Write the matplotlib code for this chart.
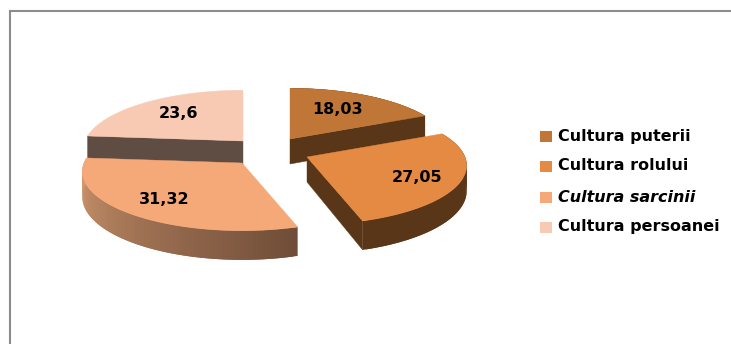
import numpy as np
import matplotlib
matplotlib.use("Agg")
import matplotlib.pyplot as plt
from matplotlib.patches import Polygon, Rectangle
from matplotlib.colors import to_rgb

labels = ["Cultura puterii", "Cultura rolului", "Cultura sarcinii", "Cultura persoanei"]
values = [18.03, 27.05, 31.32, 23.6]
value_labels = ["18,03", "27,05", "31,32", "23,6"]
top_colors = ["#c07636", "#e58a42", "#f5a878", "#f8cab3"]
wall_colors = ["#5a3618", "#5a3618", "#6f4d38", "#5f4d44"]

# pie centre of each exploded slice, in pixels
centers = [(290, 139), (307, 157), (242, 163), (243, 141)]
label_pos = [(337, 110), (417, 178), (164, 199), (178, 113)]

A, B, K, DEPTH = 158, 58, 0.143, 25

plt.rcParams["font.family"] = ["DejaVu Sans"]

fig = plt.figure(figsize=(7.31, 3.44), dpi=100)
ax = fig.add_axes([0, 0, 1, 1])
ax.set_xlim(0, 731)
ax.set_ylim(344, 0)
ax.axis("off")


def project(theta, center, drop=0.0, r=1.0):
    # theta runs clockwise from the top of the pie, r is 1 on the rim
    theta = np.atleast_1d(theta)
    u = r * np.sin(theta)
    v = -r * np.cos(theta)
    s = 1 / (1 - K * v)
    x = center[0] + A * u * s
    y = center[1] + B * v * s + drop * DEPTH * s
    return np.column_stack([x, y])


def side_wall(theta, center, color, z):
    up = np.vstack([project(0.0, center, r=0), project(theta, center)])
    lo = np.vstack([project(0.0, center, 1, r=0), project(theta, center, 1)])
    ax.add_patch(Polygon(np.vstack([up, lo[::-1]]), closed=True, fc=color, ec=color, lw=0.3, zorder=z))


def rim(t0, t1, center, c0, c1, z):
    # outer wall in overlapping strips so the shade can change along the arc
    edges = np.linspace(t0, t1, 81)
    c0, c1 = np.array(to_rgb(c0)), np.array(to_rgb(c1))
    for i in range(79):
        seg = edges[i:i + 3]
        up = project(seg, center)
        lo = project(seg, center, 1)
        col = c0 + (c1 - c0) * i / 78
        ax.add_patch(Polygon(np.vstack([up, lo[::-1]]), closed=True, fc=col, ec="none", zorder=z))


rim_shades = [("#5a3618", "#5a3618"), ("#5a3618", "#5a3618"), ("#6f4d38", "#d69c72")]

fracs = np.array(values) / sum(values)
ends = np.cumsum(fracs) * 2 * np.pi
starts = ends - fracs * 2 * np.pi

# back slices first so the nearer ones sit on top of them
for z, idx in zip([20, 30, 40, 50], [3, 0, 1, 2]):
    t0, t1 = starts[idx], ends[idx]
    c = centers[idx]
    if idx == 3:
        # only the cut face towards the next slice shows here
        side_wall(t0, c, wall_colors[idx], z)
    else:
        rim(t0, t1, c, *rim_shades[idx], z)
        if idx != 2:
            side_wall(t1, c, wall_colors[idx], z)
    arc = project(np.linspace(t0, t1, 120), c)
    pts = np.vstack([project(0.0, c, r=0), arc])
    ax.add_patch(Polygon(pts, closed=True, fc=top_colors[idx], ec=top_colors[idx], lw=0.3, zorder=z + 1))
    ax.text(*label_pos[idx], value_labels[idx], ha="center", va="center", fontsize=11.5,
            fontweight="bold", color="black", zorder=60)

# legend
legend_y = [136, 166, 197, 227]
for i, (name, y) in enumerate(zip(labels, legend_y)):
    ax.add_patch(Rectangle((540, y - 5.5), 12, 11, fc=top_colors[i], ec="none"))
    ax.text(558, y, name, ha="left", va="center", fontsize=11.5, color="black",
            fontweight="bold", style="italic" if i == 2 else "normal")

# chart frame, open on the right and at the bottom
ax.plot([9.5, 9.5, 731], [344, 10.5, 10.5], color="#8c8c8c", lw=1.5,
        solid_capstyle="butt", solid_joinstyle="miter")

fig.savefig("out.png", dpi=100)
